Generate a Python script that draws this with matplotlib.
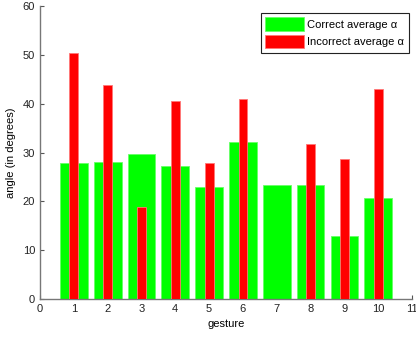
import matplotlib.pyplot as plt
import numpy as np

gestures = [1, 2, 3, 4, 5, 6, 7, 8, 9, 10]
correct_avg = [27.8, 28.0, 29.6, 27.3, 22.9, 32.2, 23.4, 23.3, 12.9, 20.6]
incorrect_avg = [50.3, 43.8, 18.8, 40.5, 27.8, 40.9, 0.0, 31.7, 28.7, 43.1]

plt.rcParams['font.family'] = ['Liberation Sans', 'DejaVu Sans']
plt.rcParams['font.size'] = 8

fig = plt.figure(figsize=(4.16, 3.37), dpi=100)
ax = fig.add_axes([0.0962, 0.1128, 0.8942, 0.8692])

ax.bar(gestures, correct_avg, width=0.82, color='#00ff00', edgecolor='#66ff66',
       linewidth=0.6, label='Correct average \u03b1', zorder=2)
ax.bar(gestures, incorrect_avg, width=0.26, color='#ff0000', edgecolor='#ff7777',
       linewidth=0.6, label='Incorrect average \u03b1', zorder=3)

ax.set_xlim(0, 11)
ax.set_ylim(0, 60)
ax.set_xticks(np.arange(0, 12, 1))
ax.set_yticks(np.arange(0, 61, 10))
ax.tick_params(direction='in', length=3, color='#555555', labelcolor='#222222', width=0.8)
for side in ['top', 'right']:
    ax.spines[side].set_visible(False)
for side in ['left', 'bottom']:
    ax.spines[side].set_color('#777777')
    ax.spines[side].set_linewidth(1.0)

ax.set_xlabel('gesture', labelpad=4)
ax.set_ylabel('angle (in degrees)', labelpad=5)

leg = ax.legend(loc='upper right', bbox_to_anchor=(408.7 / 416, 1 - 12.7 / 337),
                bbox_transform=fig.transFigure, borderaxespad=0, fancybox=False,
                framealpha=1, edgecolor='#222222', handlelength=3.5, handleheight=1.5,
                handletextpad=0.3, borderpad=0.4, labelspacing=0.35)
leg.get_frame().set_linewidth(0.8)

fig.savefig('out.png', dpi=100)
